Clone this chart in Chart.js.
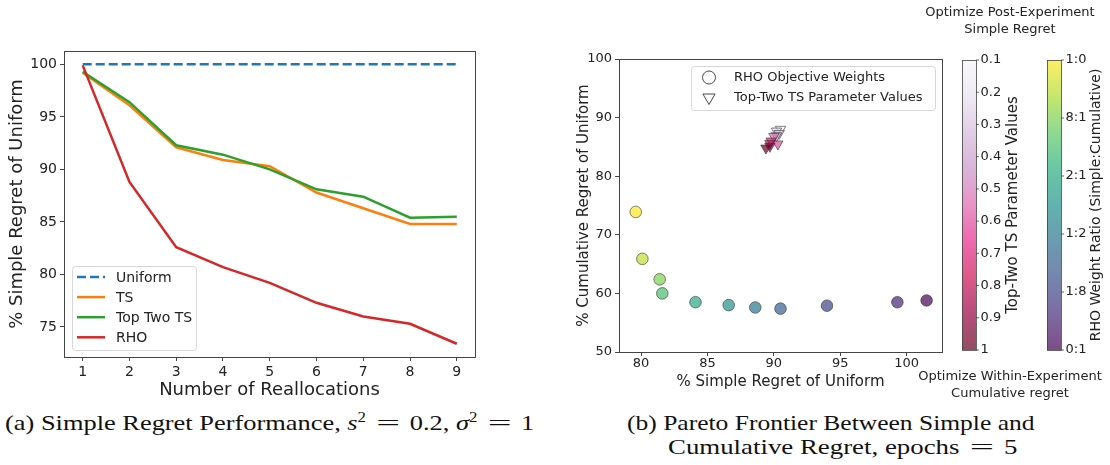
<!DOCTYPE html>
<html>
<head>
<meta charset="utf-8">
<script src="https://cdn.jsdelivr.net/npm/chart.js@4"></script>
<style>
body { margin: 0; background: #fff; width: 1110px; height: 465px; overflow: hidden; position: relative; font-family: "DejaVu Sans", sans-serif; }
canvas { position: absolute; }
.note { position: absolute; font-size: 13px; color: #222; text-align: center; line-height: 17px; }
.cap { position: absolute; font-family: "Liberation Serif", serif; font-size: 22px; color: #111; white-space: nowrap; transform: scaleX(1.16); transform-origin: 0 0; }
.cap sup { font-size: 14px; line-height: 0; }
.cap .eq { display: inline-block; transform: scaleX(1.6); margin: 0 12px; }
</style>
</head>
<body>
<canvas id="regretChart" width="490" height="403" style="left:0;top:0;width:490px;height:403px"></canvas>
<canvas id="paretoChart" width="550" height="393" style="left:560px;top:0;width:550px;height:393px"></canvas>
<div class="note" style="left:910px;top:3px;width:200px">Optimize Post-Experiment<br>Simple Regret</div>
<div class="note" style="left:910px;top:367px;width:200px">Optimize Within-Experiment<br>Cumulative regret</div>
<div class="cap" style="left:5px;top:410px;transform:scaleX(1.2)">(a) Simple Regret Performance, <i>s</i><sup>2</sup><span class="eq">=</span>0.2, <i>σ</i><sup>2</sup><span class="eq">=</span>1</div>
<div class="cap" style="left:627px;top:410px">(b) Pareto Frontier Between Simple and</div>
<div class="cap" style="left:668px;top:434px;transform:scaleX(1.22)">Cumulative Regret, epochs<span class="eq">=</span>5</div>
<script>
// (a) simple regret vs number of reallocations
const reallocations = [1, 2, 3, 4, 5, 6, 7, 8, 9];
const uniformRegret = [100, 100, 100, 100, 100, 100, 100, 100, 100];
const tsRegret = [99.2, 96.1, 92.1, 90.9, 90.3, 87.8, 86.3, 84.8, 84.8];
const topTwoRegret = [99.3, 96.4, 92.3, 91.4, 90.0, 88.1, 87.4, 85.4, 85.5];
const rhoRegret = [99.9, 88.8, 82.6, 80.7, 79.2, 77.3, 76.0, 75.3, 73.4];
const regretTicks = [75, 80, 85, 90, 95, 100];

// (b) pareto frontier
const rhoSimple = [79.6, 80.1, 81.4, 81.6, 84.1, 86.6, 88.6, 90.5, 94.0, 99.3, 101.5];
const rhoCumulative = [73.9, 65.9, 62.4, 60.0, 58.5, 58.0, 57.6, 57.4, 57.9, 58.5, 58.8];
const rhoWeight = [1.0, 0.9, 0.8, 0.7, 0.6, 0.5, 0.4, 0.3, 0.2, 0.1, 0.0];
const tsParam = [0.1, 0.2, 0.3, 0.4, 0.5, 0.6, 0.7, 0.8, 0.9, 1.0];
const tsSimple = [90.5, 90.2, 90.4, 90.2, 90.0, 90.3, 89.8, 89.7, 89.7, 89.4];
const tsCumulative = [88.0, 87.7, 87.3, 86.9, 86.8, 85.5, 86.0, 85.6, 85.1, 84.8];
const simpleTicks = [80, 85, 90, 95, 100];
const cumulativeTicks = [50, 60, 70, 80, 90, 100];
const tsBarTicks = ['0.1', '0.2', '0.3', '0.4', '0.5', '0.6', '0.7', '0.8', '0.9', '1'];
const rhoBarTicks = ['1:0', '8:1', '2:1', '1:2', '1:8', '0:1'];

const viridisStops = ['#440154', '#472d7b', '#3b528b', '#2c728e', '#21918c', '#28ae80', '#5ec962', '#addc30', '#fde725'];
const purdStops = ['#f7f4f9', '#e7e1ef', '#d4b9da', '#c994c7', '#df65b0', '#e7298a', '#ce1256', '#980043', '#67001f'];

function cmap(stops, t, alpha) {
    t = Math.max(0, Math.min(1, t));
    const pos = t * (stops.length - 1);
    const i = Math.min(Math.floor(pos), stops.length - 2);
    const f = pos - i;
    const a = stops[i], b = stops[i + 1];
    const ch = k => {
        const ca = parseInt(a.substr(1 + 2 * k, 2), 16), cb = parseInt(b.substr(1 + 2 * k, 2), 16);
        return Math.round(ca + (cb - ca) * f);
    };
    return `rgba(${ch(0)},${ch(1)},${ch(2)},${alpha})`;
}

const axisColor = '#444';
const textColor = '#222';

// box around plot area
const frame = {
    id: 'frame',
    afterDatasetsDraw(chart) {
        const { ctx, chartArea: a } = chart;
        ctx.save();
        ctx.strokeStyle = axisColor;
        ctx.lineWidth = 1;
        ctx.strokeRect(Math.round(a.left) + 0.5, Math.round(a.top) + 0.5, Math.round(a.width), Math.round(a.height));
        ctx.restore();
    }
};

function roundBox(ctx, x, y, w, h, r) {
    ctx.beginPath();
    ctx.moveTo(x + r, y);
    ctx.arcTo(x + w, y, x + w, y + h, r);
    ctx.arcTo(x + w, y + h, x, y + h, r);
    ctx.arcTo(x, y + h, x, y, r);
    ctx.arcTo(x, y, x + w, y, r);
    ctx.closePath();
    ctx.fillStyle = 'rgba(255,255,255,0.8)';
    ctx.fill();
    ctx.strokeStyle = '#d6d6d6';
    ctx.lineWidth = 1;
    ctx.stroke();
}

const lineLegend = {
    id: 'lineLegend',
    afterDraw(chart) {
        const ctx = chart.ctx;
        const x = 72, y = 266;
        ctx.save();
        roundBox(ctx, x + 0.5, y + 0.5, 124, 84, 3);
        ctx.font = '14px "DejaVu Sans"';
        ctx.textBaseline = 'middle';
        chart.data.datasets.forEach((ds, i) => {
            const yy = y + 11 + i * 20.1;
            ctx.strokeStyle = ds.borderColor;
            ctx.lineWidth = ds.borderWidth;
            ctx.setLineDash(ds.borderDash || []);
            ctx.beginPath();
            ctx.moveTo(x + 5, yy);
            ctx.lineTo(x + 33, yy);
            ctx.stroke();
            ctx.setLineDash([]);
            ctx.fillStyle = textColor;
            ctx.fillText(ds.label, x + 44, yy + 1);
        });
        ctx.restore();
    }
};

function toPoints(xs, ys) {
    return xs.map((x, i) => ({ x: x, y: ys[i] }));
}

function axis(min, max, ticks, title, fontSize, titleSize, fit, tickPad) {
    return {
        type: 'linear',
        min: min,
        max: max,
        afterBuildTicks: s => { s.ticks = ticks.map(v => ({ value: v })); },
        afterFit: fit,
        grid: { drawOnChartArea: false, drawTicks: true, tickLength: 4, color: axisColor },
        border: { display: true, color: axisColor },
        ticks: { color: textColor, font: { size: fontSize, family: 'DejaVu Sans' }, padding: tickPad, maxRotation: 0 },
        title: { display: true, text: title, color: textColor, font: { size: titleSize, family: 'DejaVu Sans' }, padding: { top: 0, bottom: 2 } }
    };
}

new Chart(document.getElementById('regretChart'), {
    type: 'line',
    data: {
        datasets: [
            { label: 'Uniform', data: toPoints(reallocations, uniformRegret), borderColor: '#1f77b4', borderDash: [9, 4], order: 3 },
            { label: 'TS', data: toPoints(reallocations, tsRegret), borderColor: '#ff7f0e', order: 2 },
            { label: 'Top Two TS', data: toPoints(reallocations, topTwoRegret), borderColor: '#2ca02c', order: 1 },
            { label: 'RHO', data: toPoints(reallocations, rhoRegret), borderColor: '#d62728', order: 0 }
        ].map(d => Object.assign({ borderWidth: 2.5, pointRadius: 0, tension: 0, fill: false }, d))
    },
    options: {
        responsive: false,
        animation: false,
        layout: { padding: { top: 51, right: 15, left: 7, bottom: 0 } },
        plugins: { legend: { display: false }, tooltip: { enabled: false } },
        scales: {
            x: axis(0.6, 9.39, reallocations, 'Number of Reallocations', 14, 18, s => { s.height = 46; }, 3),
            y: axis(72.14, 101.27, regretTicks, '% Simple Regret of Uniform', 14, 18, s => { s.width = 57; }, 3)
        }
    },
    plugins: [frame, lineLegend]
});

const markerLegend = {
    id: 'markerLegend',
    afterDraw(chart) {
        const ctx = chart.ctx;
        const x = 131, y = 66;
        ctx.save();
        roundBox(ctx, x + 0.5, y + 0.5, 244, 44, 3);
        ctx.strokeStyle = '#333';
        ctx.lineWidth = 0.9;
        ctx.beginPath();
        ctx.arc(x + 18, y + 11.5, 6.5, 0, Math.PI * 2);
        ctx.stroke();
        const tx = x + 18, ty = y + 31.5, r = 7;
        ctx.beginPath();
        ctx.moveTo(tx - r * 0.87, ty - r * 0.5);
        ctx.lineTo(tx + r * 0.87, ty - r * 0.5);
        ctx.lineTo(tx, ty + r);
        ctx.closePath();
        ctx.stroke();
        ctx.font = '13px "DejaVu Sans"';
        ctx.fillStyle = textColor;
        ctx.textBaseline = 'middle';
        ctx.fillText('RHO Objective Weights', x + 43, y + 12);
        ctx.fillText('Top-Two TS Parameter Values', x + 43, y + 32);
        ctx.restore();
    }
};

function drawBar(ctx, x, top, bottom, colorAt, labels, label, labelX, labelSize) {
    const w = 14;
    const g = ctx.createLinearGradient(0, top, 0, bottom);
    for (let i = 0; i <= 40; i++) g.addColorStop(i / 40, colorAt(i / 40));
    ctx.fillStyle = g;
    ctx.fillRect(x, top, w, bottom - top);
    ctx.strokeStyle = axisColor;
    ctx.lineWidth = 0.8;
    ctx.strokeRect(x + 0.5, top + 0.5, w, bottom - top);
    ctx.font = '13px "DejaVu Sans"';
    ctx.fillStyle = textColor;
    ctx.textBaseline = 'middle';
    ctx.textAlign = 'left';
    labels.forEach((t, i) => {
        const yy = top + (bottom - top) * i / (labels.length - 1);
        ctx.beginPath();
        ctx.moveTo(x + w, yy);
        ctx.lineTo(x + w + 3, yy);
        ctx.stroke();
        ctx.fillText(t, x + w + 4.5, yy);
    });
    ctx.save();
    ctx.translate(labelX, (top + bottom) / 2);
    ctx.rotate(-Math.PI / 2);
    ctx.textAlign = 'center';
    ctx.font = labelSize + 'px "DejaVu Sans"';
    ctx.fillText(label, 0, 0);
    ctx.restore();
}

const colorbars = {
    id: 'colorbars',
    afterDraw(chart) {
        const ctx = chart.ctx;
        const a = chart.chartArea;
        ctx.save();
        drawBar(ctx, 402, a.top + 1, a.bottom - 2, t => cmap(purdStops, t, 0.7), tsBarTicks,
            'Top-Two TS Parameter Values', 453, 15);
        drawBar(ctx, 487, a.top + 1, a.bottom - 2, t => cmap(viridisStops, 1 - t, 0.7), rhoBarTicks,
            'RHO Weight Ratio (Simple:Cumulative)', 536, 14);
        ctx.restore();
    }
};

new Chart(document.getElementById('paretoChart'), {
    type: 'scatter',
    data: {
        datasets: [
            {
                label: 'RHO Objective Weights',
                data: toPoints(rhoSimple, rhoCumulative),
                pointStyle: 'circle',
                pointRadius: 5.8,
                pointBackgroundColor: rhoWeight.map(w => cmap(viridisStops, w, 0.7)),
                pointBorderColor: 'rgba(50,50,50,0.75)',
                pointBorderWidth: 0.8
            },
            {
                label: 'Top-Two TS Parameter Values',
                data: toPoints(tsSimple, tsCumulative),
                pointStyle: 'triangle',
                pointRotation: 180,
                pointRadius: 6,
                pointBackgroundColor: tsParam.map(p => cmap(purdStops, (p - 0.1) / 0.9, 0.7)),
                pointBorderColor: 'rgba(50,50,50,0.75)',
                pointBorderWidth: 0.8
            }
        ]
    },
    options: {
        responsive: false,
        animation: false,
        layout: { padding: { top: 59, right: 168, left: 15, bottom: 0 } },
        plugins: { legend: { display: false }, tooltip: { enabled: false } },
        scales: {
            x: axis(78.34, 102.66, simpleTicks, '% Simple Regret of Uniform', 13, 15, s => { s.height = 41; }, 0),
            y: axis(50, 100, cumulativeTicks, '% Cumulative Regret of Uniform', 13, 15, s => { s.width = 44; }, 3)
        }
    },
    plugins: [frame, markerLegend, colorbars]
});
</script>
</body>
</html>
